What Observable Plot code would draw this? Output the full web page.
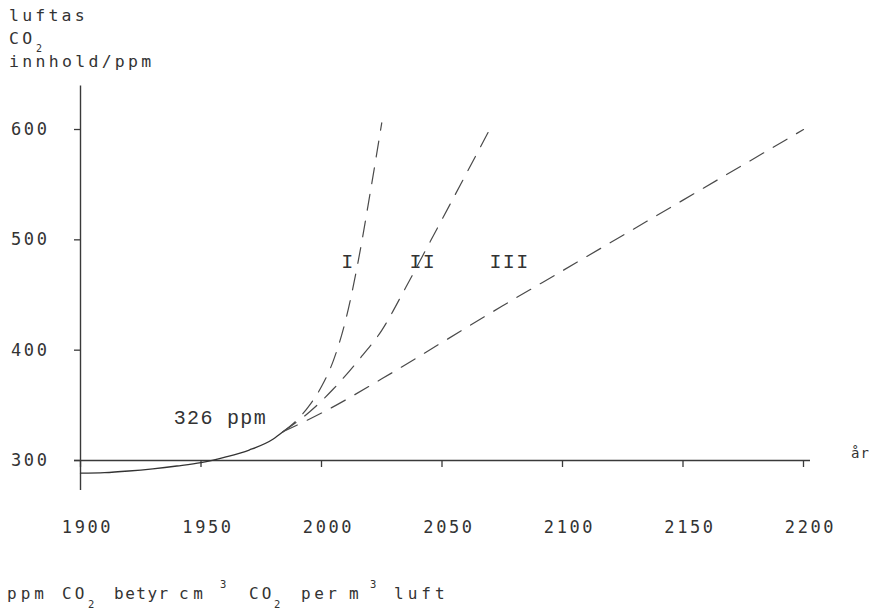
<!DOCTYPE html>
<html><head><meta charset="utf-8">
<script src="https://cdn.jsdelivr.net/npm/d3@7"></script>
<script src="https://cdn.jsdelivr.net/npm/@observablehq/plot@0.6"></script>
<style>
html,body{margin:0;padding:0;background:#fff;}
#page{position:relative;width:875px;height:609px;overflow:hidden;background:#fff;}
#title,#caption{position:relative;font-family:'DejaVu Sans Mono',monospace;color:#333;}
#title{height:78px;}
#caption{height:49px;}
.w{position:absolute;line-height:0;white-space:pre;}
#chart{height:482px;}
#chart svg{display:block;}
g[font-family="Liberation Mono"]{letter-spacing:1.3px;}
g[font-family="DejaVu Sans Mono, monospace"]{letter-spacing:1px;}
</style></head>
<body><div id="page"><div id="title"></div><div id="chart"></div><div id="caption"></div></div>
<script>
// ---- data ----
const histYear = [1900, 1910, 1920, 1930, 1940, 1950, 1960, 1970, 1980, 1984];
const histPpm  = [288.5, 289, 290.5, 292.5, 295, 298, 303, 309.5, 319.5, 326];

const s1Year = [1984, 1990, 1995, 2000, 2005, 2010, 2015, 2020, 2025];
const s1Ppm  = [326, 337, 350, 367, 391, 427, 478, 540, 606];

const s2Year = [1984, 1995, 2005, 2015, 2025, 2035, 2045, 2055, 2070];
const s2Ppm  = [326, 344, 365, 390, 418, 457, 498, 539, 601];

const s3Year = [1984, 2000, 2025, 2050, 2075, 2100, 2150, 2200];
const s3Ppm  = [326, 343, 374, 407, 440, 472, 536, 600];

const xTicks = [1900, 1950, 2000, 2050, 2100, 2150, 2200];
const yTicks = [300, 400, 500, 600];

const scenarioNames = ["I", "II", "III"];
const scenarioLabelYear = [2011, 2042, 2078];
const scenarioLabelPpm  = [480, 480, 480];

const markedYear = 1984, markedPpm = 326;

// ---- tables ----
const toRows = (xs, ys) => xs.map((x, i) => ({year: x, ppm: ys[i]}));
const hist = toRows(histYear, histPpm);
const s1 = toRows(s1Year, s1Ppm);
const s2 = toRows(s2Year, s2Ppm);
const s3 = toRows(s3Year, s3Ppm);
const scen = scenarioNames.map((n, i) => ({name: n, year: scenarioLabelYear[i], ppm: scenarioLabelPpm[i]}));

const ink = "#3a3a3a";
const dash = {x: "year", y: "ppm", curve: "monotone-x", stroke: "#4a4a4a", strokeWidth: 1.2, strokeDasharray: "16,11"};

const chart = Plot.plot({
  width: 875, height: 482,
  marginLeft: 80, marginRight: 72, marginTop: 13.5, marginBottom: 100,
  x: {domain: [1900, 2200]},
  y: {domain: [300, 634]},
  style: "font-family:'DejaVu Sans Mono',monospace;font-size:17px;letter-spacing:2.6px;color:#333;background:#fff;overflow:visible;",
  marks: [
    Plot.ruleX([1900], {insetTop: -6, insetBottom: -30, stroke: ink, strokeWidth: 1.4}),
    Plot.ruleY([300], {insetLeft: -6, insetRight: -7, stroke: ink, strokeWidth: 1.4}),
    Plot.axisX(xTicks, {tickSize: 7, tickFormat: () => "", label: null, stroke: ink, strokeWidth: 1.3}),
    Plot.axisX(xTicks, {tickSize: 0, tickPadding: 60, dx: 7, tickFormat: d => String(d), label: null}),
    Plot.axisY(yTicks, {tickSize: 6, tickPadding: 25, tickFormat: d => String(d), label: null, stroke: ink, strokeWidth: 1.3}),
    Plot.line(hist, {x: "year", y: "ppm", curve: "monotone-x", stroke: "#333", strokeWidth: 1.3}),
    Plot.line(s1, dash),
    Plot.line(s2, dash),
    Plot.line(s3, dash),
    Plot.text(scen, {x: "year", y: "ppm", text: "name", fontFamily: "Liberation Mono", fontSize: 20, fill: "#333"}),
    Plot.text([{year: markedYear, ppm: markedPpm}], {x: "year", y: "ppm", text: d => `${d.ppm} ppm`,
      textAnchor: "end", lineAnchor: "bottom", dx: -16, dy: -8, fontFamily: "Liberation Mono", fontSize: 20, fill: "#333"}),
    Plot.text(["år"], {x: () => xTicks[xTicks.length - 1], y: () => yTicks[0], text: d => d,
      dx: 57, dy: -3, lineAnchor: "bottom", fontFamily: "DejaVu Sans Mono, monospace", fontSize: 14, fill: "#333"})
  ]
});
document.getElementById("chart").appendChild(chart);

// ---- title and caption as HTML text ----
function place(parent, text, x, baseline, size, ls) {
  const s = document.createElement("span");
  s.className = "w";
  s.textContent = text;
  s.style.fontSize = size + "px";
  s.style.letterSpacing = ls + "px";
  s.style.left = x + "px";
  s.style.top = (baseline - size * 0.346) + "px";
  parent.appendChild(s);
}
const title = document.getElementById("title");
place(title, "luftas", 9, 22, 16.5, 3.2);
place(title, "CO", 9, 45, 16.5, 3.2);
place(title, "2", 36, 52.5, 10, 0);
place(title, "innhold/ppm", 9, 68, 16.5, 3.3);

const cap = document.getElementById("caption");
const capWords = [["ppm", 7, 4], ["CO", 62, 3], ["betyr", 114, 1.5], ["cm", 179, 4.5], ["CO", 249, 3], ["per", 301, 3.5], ["m", 349, 0], ["luft", 394, 4]];
capWords.forEach(([t, x, ls]) => place(cap, t, x, 40, 16, ls));
[["2", 88], ["2", 274]].forEach(([t, x]) => place(cap, t, x, 48, 10.5, 0));
[["3", 220], ["3", 370]].forEach(([t, x]) => place(cap, t, x, 28, 10.5, 0));
</script>
</body></html>
